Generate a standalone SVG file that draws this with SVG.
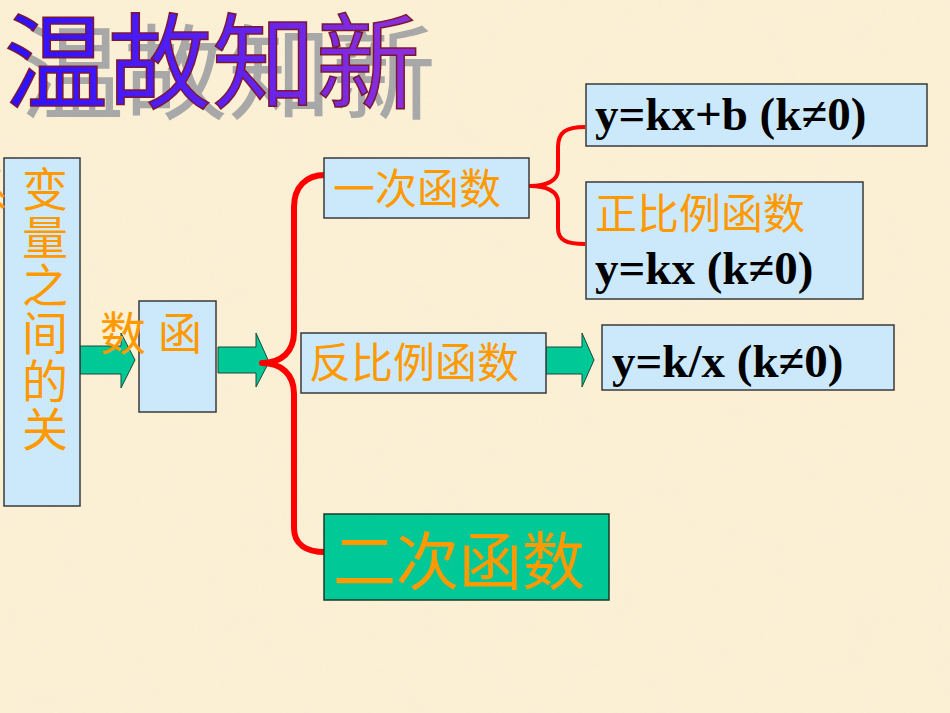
<svg xmlns="http://www.w3.org/2000/svg" width="950" height="713" viewBox="0 0 950 713">
<style>
.cjk{font-family:"Noto Sans CJK SC","Noto Sans",sans-serif;fill:#ff9900}
.math{font-family:"Liberation Serif","DejaVu Serif",serif;font-weight:bold;fill:#000;font-size:47px}
.box{fill:#cce9fb;stroke:#3a3a3a;stroke-width:1.5}
.arrow{fill:#00c896;stroke:#1d4a3a;stroke-width:1}
.brace{fill:none;stroke:#ff0000;stroke-linecap:butt;stroke-linejoin:round}
</style>
<defs>
<linearGradient id="tg" x1="0" y1="0" x2="1" y2="0">
<stop offset="0" stop-color="#2a10ff"/>
<stop offset="0.5" stop-color="#5a20f0"/>
<stop offset="1" stop-color="#9030d8"/>
</linearGradient>
<filter id="paper" x="0" y="0" width="1" height="1">
<feTurbulence type="fractalNoise" baseFrequency="0.025" numOctaves="3" seed="4"/>
<feColorMatrix type="matrix" values="0 0 0 0 0.93  0 0 0 0 0.85  0 0 0 0 0.70  0 0 0 0.35 -0.05"/>
</filter>
</defs>
<rect width="950" height="713" fill="#fbf0d4"/>
<rect width="950" height="713" filter="url(#paper)" opacity="0.6"/>

<g id="title" font-family="'Noto Sans CJK SC','Noto Sans',sans-serif" font-size="104">
<text x="20" y="112" fill="#a8a8a8">温故知新</text>
<text x="4" y="101" fill="url(#tg)" stroke="#7a1830" stroke-width="1.5">温故知新</text>
</g>

<g id="connectors">
<polygon class="arrow" points="80,346 121,346 121,333 135,360 121,388 121,374 80,374"/>
<polygon class="arrow" points="218,347 256,347 256,333 269,362 256,387 256,373 218,373"/>
<polygon class="arrow" points="546,347 582,347 582,333 594,360 582,387 582,374 546,374"/>
<path class="brace" stroke-width="6" d="M325,175 C306,175 294,187 294,207 L294,332 C294,352 281,363 262,363 C281,363 294,374 294,394 L294,528 C294,544 306,552 325,552"/>
<path class="brace" stroke-width="4" d="M585,127 C566,127 558,132 558,147 L558,170 C558,181 546,186 530,186 C546,186 558,191 558,202 L558,228 C558,240 566,244 585,244"/>
</g>

<g id="node-variables">
<rect class="box" x="4" y="158" width="76" height="348"/>
<text class="cjk" font-size="46" x="-15" y="207" text-anchor="middle">系</text>
<text class="cjk" font-size="46" x="45" y="166" writing-mode="vertical-rl" letter-spacing="2">变量之间的关</text>
</g>

<g id="node-function">
<rect class="box" x="139" y="301" width="77" height="111"/>
<text class="cjk" font-size="46" x="100" y="350">数</text>
<text class="cjk" font-size="44" x="158" y="350">函</text>
</g>

<g id="node-linear">
<rect class="box" x="324" y="158" width="205" height="60"/>
<text class="cjk" font-size="42" x="333" y="204">一次函数</text>
</g>

<g id="node-linear-formula">
<rect class="box" x="586" y="84" width="341" height="62"/>
<text class="math" x="595" y="130">y=kx+b (k≠0)</text>
</g>

<g id="node-direct">
<rect class="box" x="586" y="182" width="277" height="117"/>
<text class="cjk" font-size="42" x="595" y="229">正比例函数</text>
<text class="math" x="595" y="284">y=kx (k≠0)</text>
</g>

<g id="node-inverse">
<rect class="box" x="301" y="333" width="245" height="60"/>
<text class="cjk" font-size="42" x="309" y="378">反比例函数</text>
</g>

<g id="node-inverse-formula">
<rect class="box" x="602" y="325" width="292" height="65"/>
<text class="math" x="612" y="377">y=k/x (k≠0)</text>
</g>

<g id="node-quadratic">
<rect x="324" y="514" width="285" height="86" fill="#00c896" stroke="#1a3a2a" stroke-width="1.5"/>
<text class="cjk" font-size="63" x="333" y="584">二次函数</text>
</g>
</svg>
